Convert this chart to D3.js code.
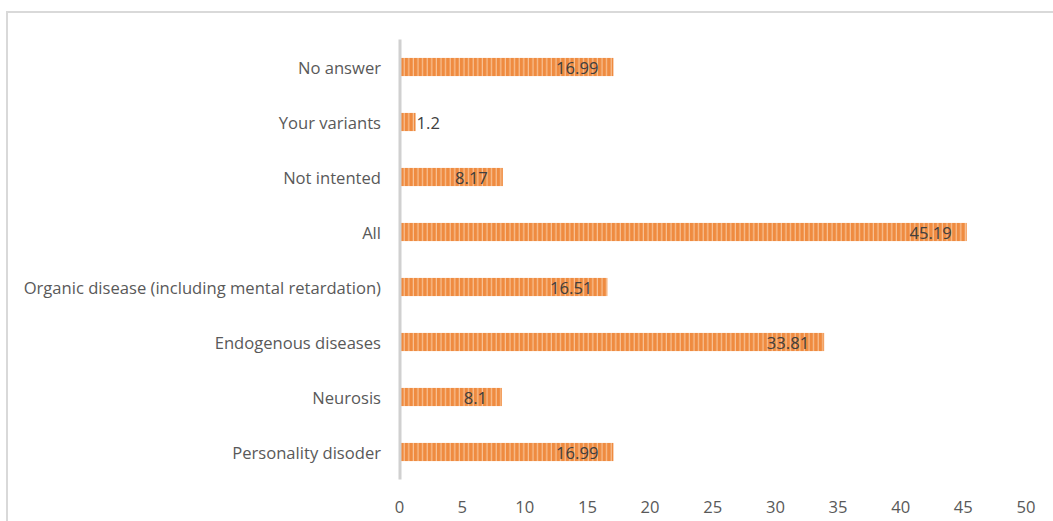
<!DOCTYPE html>
<html>
<head>
<meta charset="utf-8">
<script src="https://cdn.jsdelivr.net/npm/d3@7"></script>
<style>
  html, body { margin: 0; padding: 0; background: #ffffff; }
  svg { display: block; }
</style>
</head>
<body>
<svg id="chart" width="1053" height="521"></svg>
<script>
// Categories, top to bottom
const categories = [
  "No answer",
  "Your variants",
  "Not intented",
  "All",
  "Organic disease (including mental retardation)",
  "Endogenous diseases",
  "Neurosis",
  "Personality disoder"
];
const values = [16.99, 1.2, 8.17, 45.19, 16.51, 33.81, 8.1, 16.99];
const xTicks = [0, 5, 10, 15, 20, 25, 30, 35, 40, 45, 50];

const svg = d3.select("#chart");
const font = "'Open Sans', 'Noto Sans', sans-serif";

// Striped fill for the bars
const defs = svg.append("defs");
const pat = defs.append("pattern")
  .attr("id", "stripes")
  .attr("patternUnits", "userSpaceOnUse")
  .attr("width", 4.6).attr("height", 10);
pat.append("rect").attr("width", 4.6).attr("height", 10).attr("fill", "#ef8b40");
pat.append("rect").attr("x", 3.4).attr("width", 1.2).attr("height", 10).attr("fill", "#f8c296");

// Chart frame (top and left edges visible)
svg.append("path")
  .attr("d", "M7,521 V12 H1053")
  .attr("fill", "none")
  .attr("stroke", "#d9d9d9")
  .attr("stroke-width", 2);

const x = d3.scaleLinear().domain([0, 50]).range([400.5, 1027]);
const y = d3.scaleBand().domain(categories).range([39.5, 479.5])
  .paddingInner(0.67).paddingOuter(0.335);

// Bars
svg.append("g").selectAll("rect")
  .data(values)
  .join("rect")
  .attr("x", x(0))
  .attr("y", (d, i) => y(categories[i]))
  .attr("width", d => x(d) - x(0))
  .attr("height", y.bandwidth())
  .attr("fill", "url(#stripes)");

// Value axis line
svg.append("line")
  .attr("x1", 400).attr("x2", 400)
  .attr("y1", 39.5).attr("y2", 479.5)
  .attr("stroke", "#d0d0d0").attr("stroke-width", 3);

// Category labels
svg.append("g").selectAll("text")
  .data(categories)
  .join("text")
  .attr("x", 381)
  .attr("y", d => y(d) + y.bandwidth() / 2 + 1.5)
  .attr("dy", "0.35em")
  .attr("text-anchor", "end")
  .attr("font-family", font)
  .attr("font-size", 16.6)
  .attr("fill", "#595959")
  .text(d => d);

// X tick labels
svg.append("g").selectAll("text")
  .data(xTicks)
  .join("text")
  .attr("x", d => x(d) - 1)
  .attr("y", 507)
  .attr("dy", "0.35em")
  .attr("text-anchor", "middle")
  .attr("font-family", font)
  .attr("font-size", 16.6)
  .attr("fill", "#595959")
  .text(d => d);

// Value labels
svg.append("g").selectAll("text")
  .data(values)
  .join("text")
  .attr("x", d => (x(d) - x(0) > 30 ? x(d) - 15 : x(d) + 1))
  .attr("y", (d, i) => y(categories[i]) + y.bandwidth() / 2 + 1.5)
  .attr("dy", "0.35em")
  .attr("text-anchor", d => (x(d) - x(0) > 30 ? "end" : "start"))
  .attr("font-family", font)
  .attr("font-size", 16.6)
  .attr("fill", "#404040")
  .text(d => d);
</script>
</body>
</html>
